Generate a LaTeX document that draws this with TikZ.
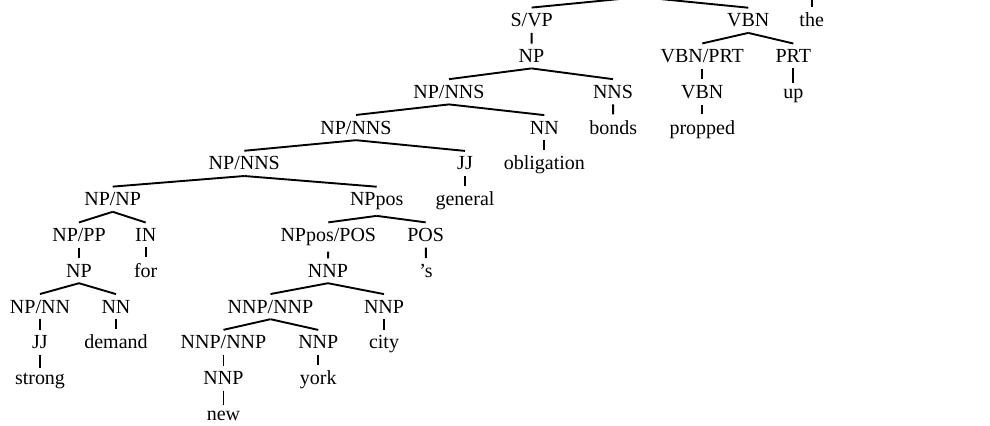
\documentclass[tikz,border=0pt]{standalone}
\usepackage{fontspec}
\setmainfont{Liberation Serif}
\begin{document}
\begin{tikzpicture}[x=0.5pt,y=-0.5pt,
  lab/.style={anchor=base,inner xsep=0pt,inner ysep=2.75pt,font=\fontsize{10}{12}\selectfont},
  edge/.style={line width=0.95pt}]
\useasboundingbox (0,0) rectangle (990,425);
\clip (0,0) rectangle (990,425);
% row 1
\node[lab] (svp) at (531.7,26.7) {S/VP};
\node[lab] (vbn1) at (748.3,26.7) {VBN};
\node[lab] (the) at (811.7,26.7) {the};
% row 2
\node[lab] (np1) at (531.5,62.5) {NP};
\node[lab] (vbnprt) at (702.3,62.5) {VBN/PRT};
\node[lab] (prt) at (793.3,62.5) {PRT};
% row 3
\node[lab] (npnns1) at (449,98.3) {NP/NNS};
\node[lab] (nns) at (613,98.3) {NNS};
\node[lab] (vbn2) at (702.3,98.3) {VBN};
\node[lab] (up) at (793.3,98.3) {up};
% row 4
\node[lab] (npnns2) at (356,134.1) {NP/NNS};
\node[lab] (nn1) at (544.3,134.1) {NN};
\node[lab] (bonds) at (613.3,134.1) {bonds};
\node[lab] (propped) at (702.3,134.1) {propped};
% row 5
\node[lab] (npnns3) at (244.3,169.9) {NP/NNS};
\node[lab] (jj1) at (465,169.9) {JJ};
\node[lab] (obligation) at (544.3,169.9) {obligation};
% row 6
\node[lab] (npnp) at (112.7,205.7) {NP/NP};
\node[lab] (nppos) at (376.7,205.7) {NPpos};
\node[lab] (general) at (465,205.7) {general};
% row 7
\node[lab] (nppp) at (79,241.5) {NP/PP};
\node[lab] (in) at (145.7,241.5) {IN};
\node[lab] (npposp) at (328.3,241.5) {NPpos/POS};
\node[lab] (pos) at (425.7,241.5) {POS};
% row 8
\node[lab] (np2) at (79,277.3) {NP};
\node[lab] (for) at (145.7,277.3) {for};
\node[lab] (nnp1) at (328,277.3) {NNP};
\node[lab] (s) at (426,277.3) {’s};
% row 9
\node[lab] (npnn) at (40,313.1) {NP/NN};
\node[lab] (nn2) at (116,313.1) {NN};
\node[lab] (nnpnnp1) at (270.5,313.1) {NNP/NNP};
\node[lab] (nnp2) at (384,313.1) {NNP};
% row 10
\node[lab] (jj2) at (40,348.9) {JJ};
\node[lab] (demand) at (116,348.9) {demand};
\node[lab] (nnpnnp2) at (223.5,348.9) {NNP/NNP};
\node[lab] (nnp3) at (318.3,348.9) {NNP};
\node[lab] (city) at (384,348.9) {city};
% row 11
\node[lab] (strong) at (40,384.7) {strong};
\node[lab] (nnp4) at (223.5,384.7) {NNP};
\node[lab] (york) at (318.3,384.7) {york};
% row 12
\node[lab] (new) at (223.5,420.5) {new};
% off-canvas parents
\coordinate (root) at (640,-3);
\coordinate (dt) at (811.7,-12);
% edges
\draw[edge] (root) -- (svp.north);
\draw[edge] (root) -- (vbn1.north);
\draw[edge] (dt) -- (the.north);
\draw[edge] (svp) -- (np1);
\draw[edge] (np1.south) -- (npnns1.north);
\draw[edge] (np1.south) -- (nns.north);
\draw[edge] (vbn1.south) -- (vbnprt.north);
\draw[edge] (vbn1.south) -- (prt.north);
\draw[edge] (vbnprt) -- (vbn2);
\draw[edge] (prt) -- (up);
\draw[edge] (npnns1.south) -- (npnns2.north);
\draw[edge] (npnns1.south) -- (nn1.north);
\draw[edge] (nns) -- (bonds);
\draw[edge] (vbn2) -- (propped);
\draw[edge] (npnns2.south) -- (npnns3.north);
\draw[edge] (npnns2.south) -- (jj1.north);
\draw[edge] (nn1) -- (obligation);
\draw[edge] (npnns3.south) -- (npnp.north);
\draw[edge] (npnns3.south) -- (nppos.north);
\draw[edge] (jj1) -- (general);
\draw[edge] (npnp.south) -- (nppp.north);
\draw[edge] (npnp.south) -- (in.north);
\draw[edge] (nppos.south) -- (npposp.north);
\draw[edge] (nppos.south) -- (pos.north);
\draw[edge] (nppp) -- (np2);
\draw[edge] (in) -- (for);
\draw[edge] (npposp) -- (nnp1);
\draw[edge] (pos) -- (s);
\draw[edge] (np2.south) -- (npnn.north);
\draw[edge] (np2.south) -- (nn2.north);
\draw[edge] (nnp1.south) -- (nnpnnp1.north);
\draw[edge] (nnp1.south) -- (nnp2.north);
\draw[edge] (npnn) -- (jj2);
\draw[edge] (nn2) -- (demand);
\draw[edge] (nnpnnp1.south) -- (nnpnnp2.north);
\draw[edge] (nnpnnp1.south) -- (nnp3.north);
\draw[edge] (nnp2) -- (city);
\draw[edge] (jj2) -- (strong);
\draw[edge] (nnpnnp2) -- (nnp4);
\draw[edge] (nnp3) -- (york);
\draw[edge] (nnp4) -- (new);
\end{tikzpicture}
\end{document}
